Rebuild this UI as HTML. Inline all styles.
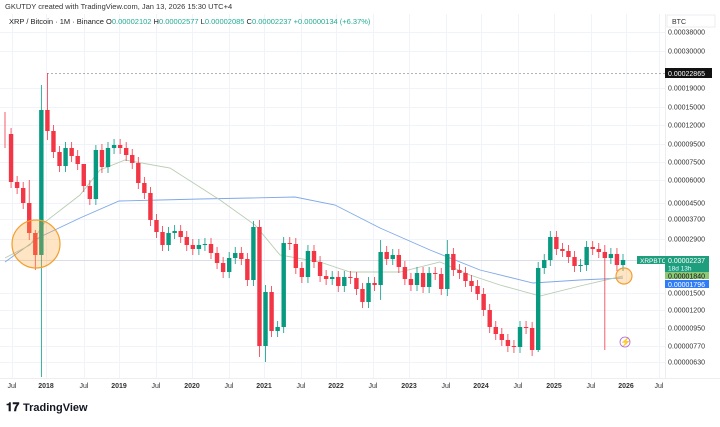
<!DOCTYPE html>
<html><head><meta charset="utf-8"><style>
body{margin:0;background:#fff;width:720px;height:422px;overflow:hidden;font-family:"Liberation Sans",sans-serif}
svg text{font-family:"Liberation Sans",sans-serif}
</style></head><body>
<svg id="s" width="720" height="422" xmlns="http://www.w3.org/2000/svg">
<g id="grid" stroke="#f0f3fa" stroke-width="1"></g>
<text x="5" y="9" font-size="7.5" fill="#333">GKUTDY created with TradingView.com, Jan 13, 2026 15:30 UTC+4</text>
<text x="9" y="24" font-size="7.5" fill="#222">XRP / Bitcoin · 1M · Binance  O<tspan fill="#22ab94">0.00002102</tspan>  H<tspan fill="#22ab94">0.00002577</tspan>  L<tspan fill="#22ab94">0.00002085</tspan>  C<tspan fill="#22ab94">0.00002237  +0.00000134 (+6.37%)</tspan></text>
<line x1="0" y1="260.5" x2="665" y2="260.5" stroke="#d8dde6" stroke-width="1"/>
<line x1="47" y1="73.5" x2="665" y2="73.5" stroke="#999" stroke-dasharray="2,2" stroke-width="0.8"/>
<polyline fill="none" stroke="#7fa8e8" stroke-width="0.9" points="5,262 40,237 80,218 119,201 160,200 200,199 250,198 295,197 335,205 380,228 430,250 480,270 533,283 580,280 623,278"/>
<polyline fill="none" stroke="#b8ccb0" stroke-width="0.9" points="5,258 30,245 45,222 80,195 100,170 125,160 170,168 220,200 255,225 280,255 320,262 350,272 400,272 440,262 470,275 500,285 540,296 580,286 623,276"/>
<g id="c"></g>
<circle cx="36" cy="244" r="24" fill="rgba(255,170,60,0.3)" stroke="#f0a030" stroke-width="1.2"/>
<circle cx="624" cy="276" r="8" fill="rgba(255,170,60,0.3)" stroke="#f0a030" stroke-width="1.2"/>
<text x="626" y="345" font-size="9" fill="#b060d0" text-anchor="middle">⚡</text>
<circle cx="625" cy="342" r="5" fill="none" stroke="#b060d0" stroke-width="0.8"/>
<line x1="665.5" y1="14" x2="665.5" y2="378" stroke="#eee"/>
<line x1="0" y1="378.5" x2="720" y2="378.5" stroke="#eee"/>
<rect x="667" y="15" width="48" height="12" fill="#fff" stroke="#e0e3eb" stroke-width="0.6"/>
<text x="672" y="24" font-size="7" fill="#333">BTC</text>
<g id="ax" font-size="7" fill="#333"></g>
<rect x="665" y="68" width="47" height="10" fill="#111"/>
<text x="668" y="76" font-size="7" fill="#fff">0.00022865</text>
<rect x="637" y="256" width="28" height="8" fill="#1f9e7e"/>
<text x="640" y="263" font-size="6.5" fill="#fff">XRPBTC</text>
<rect x="665" y="256" width="44" height="16" fill="#1f9e7e"/>
<text x="668" y="263" font-size="7" fill="#fff">0.00002237</text>
<text x="668" y="270.5" font-size="6.5" fill="#dff">18d 13h</text>
<rect x="665" y="272" width="44" height="7" fill="#8cc878"/>
<text x="668" y="278.5" font-size="7" fill="#111">0.00001840</text>
<rect x="665" y="280" width="44" height="8" fill="#2f7cf6"/>
<text x="668" y="287" font-size="7" fill="#fff">0.00001796</text>
<g id="tx" font-size="7" fill="#333"></g>
<text x="6" y="411" font-size="12" font-weight="bold" fill="#131722">𝟏𝟕</text>
<text x="23" y="411" font-size="11" font-weight="bold" fill="#131722">TradingView</text>
</svg>
<script>
var NS="http://www.w3.org/2000/svg";
function el(p,t,a,txt){var e=document.createElementNS(NS,t);for(var k in a)e.setAttribute(k,a[k]);if(txt)e.textContent=txt;document.getElementById(p).appendChild(e);return e;}
var ticks=[["0.00038000",32],["0.00030000",51],["0.00019000",88],["0.00015000",107],["0.00012000",125],["0.00009500",144],["0.00007500",162],["0.00006000",180],["0.00004500",203],["0.00003700",219],["0.00002900",239],["0.00001500",293],["0.00001200",310],["0.00000950",328],["0.00000770",346],["0.00000630",362]];
ticks.forEach(function(t){el("ax","text",{x:668,y:t[1]+2.5},t[0]);el("grid","line",{x1:0,x2:665,y1:t[1]+.5,y2:t[1]+.5});});
var tl=[["Jul",12],["2018",46],["Jul",84],["2019",119],["Jul",156],["2020",192],["Jul",229],["2021",264],["Jul",301],["2022",336],["Jul",373],["2023",409],["Jul",446],["2024",481],["Jul",518],["2025",554],["Jul",591],["2026",626],["Jul",659]];
tl.forEach(function(t){var b=t[0]!="Jul";el("tx","text",{x:t[1],y:388,"text-anchor":"middle","font-weight":b?"bold":"normal"},t[0]);el("grid","line",{x1:t[1]+.5,x2:t[1]+.5,y1:14,y2:378});});
var cl=[134,182,188,203,233,255,110,131,152,166,148,156,164,186,199,150,167,148,145,148,155,163,183,193,220,232,245,233,231,237,245,249,245,244,253,263,272,258,253,259,280,227,346,292,331,327,243,244,268,277,251,262,276,279,277,286,277,278,289,302,283,285,252,259,255,267,279,285,273,287,273,274,289,254,270,273,281,286,294,310,327,334,340,346,347,327,328,350,268,260,237,249,251,257,266,265,247,249,252,258,254,265,260];
var wk={0:[112,148],6:[85,377],7:[73,140],42:[220,357],43:[285,362],99:[245,350],88:[262,352],62:[240,300],73:[240,296],5:[230,270],4:[180,240],15:[145,205],13:[176,192]};
var o=120,sp=618/(cl.length-1);
cl.forEach(function(c,i){var x=5+i*sp,up=c<o,col=up?"#089981":"#f23645";var t=Math.min(o,c),b=Math.max(o,c);var w=wk[i]||[t-6,b+6];
el("c","line",{x1:x,x2:x,y1:w[0],y2:w[1],stroke:col,"stroke-width":0.8});
if(i>0)el("c","rect",{x:x-2.2,y:t,width:4.4,height:Math.max(1,b-t),fill:col});o=c;});
</script>
</body></html>
